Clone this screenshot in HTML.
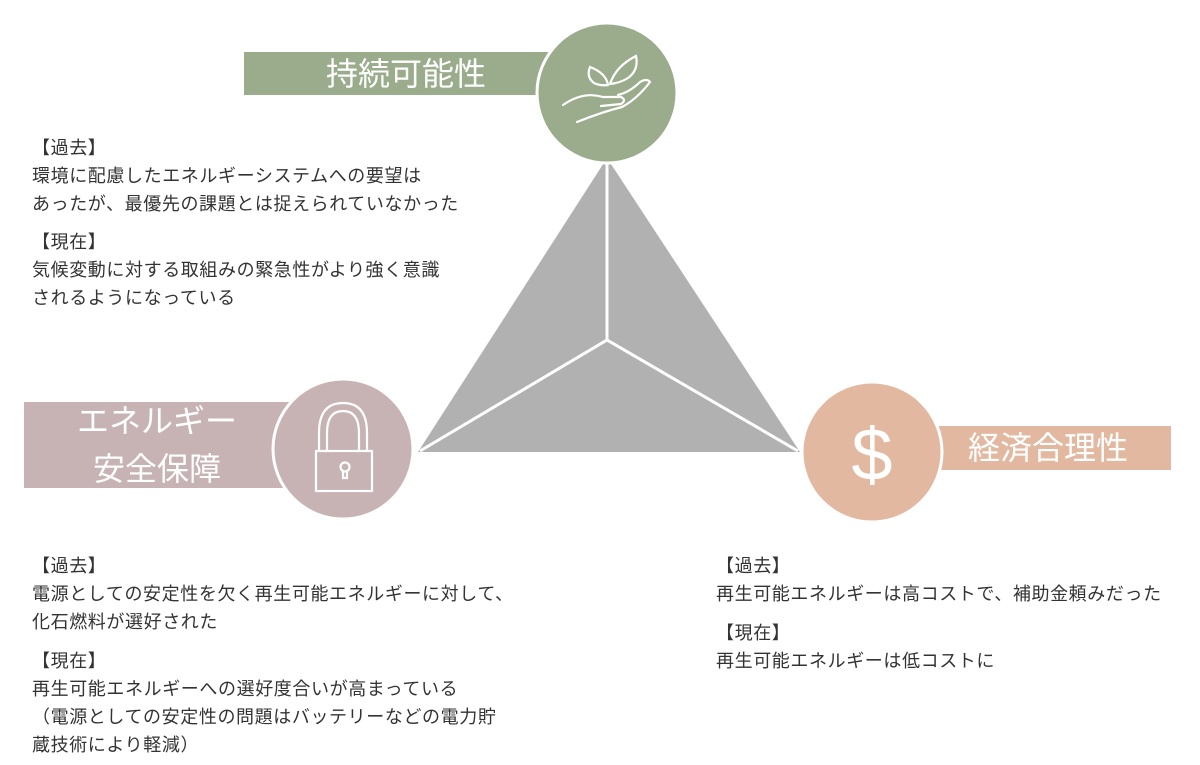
<!DOCTYPE html>
<html><head><meta charset="utf-8"><style>
body{margin:0;width:1200px;height:765px;background:#fff;position:relative;overflow:hidden;font-family:"Liberation Sans","Noto Sans CJK JP",sans-serif;}
.t{position:absolute;font-size:18px;color:#333;line-height:28px;white-space:nowrap;letter-spacing:0.6px}
.bar{position:absolute;color:#fff;font-size:32px;display:flex;align-items:center;justify-content:center;line-height:48px;text-align:center}
</style></head><body>
<svg width="1200" height="765" style="position:absolute;left:0;top:0">
<polygon points="607,158 418,452 800,452" fill="#b1b1b1"/>
<polyline points="607,158 607,340" stroke="#fff" stroke-width="3" fill="none"/>
<polyline points="420,451 607,340 798,451" stroke="#fff" stroke-width="3" fill="none"/>
<rect x="244" y="52" width="310" height="43" fill="#9aac8b"/>
<rect x="24" y="402" width="270" height="86" fill="#c7b3b4"/>
<rect x="935" y="426" width="236" height="44" fill="#e2b9a0"/>
<circle cx="607" cy="93" r="70" fill="#9aac8b" stroke="#fff" stroke-width="3"/>
<circle cx="343" cy="449" r="70" fill="#c7b3b4" stroke="#fff" stroke-width="3"/>
<circle cx="872" cy="452" r="70" fill="#e2b9a0" stroke="#fff" stroke-width="3"/>
<g stroke="#fff" stroke-width="2.2" fill="none" stroke-linecap="round">
<path d="M563,105 q20,-14 40,-8 l18,0 q6,3 0,7 l-20,2"/>
<path d="M577,122 q25,-10 45,-15 q15,-8 28,-25 q-3,-4 -10,0 q-10,10 -22,13"/>
<path d="M608,85 q-2,-12 -18,-18 q-4,10 4,16 q6,3 14,2"/>
<path d="M610,84 q6,-18 26,-28 q3,14 -8,22 q-8,5 -18,6"/>
<path d="M319,451 l0,-18 q0,-30 24,-30 q24,0 24,30 l0,18"/>
<path d="M327,451 l0,-18 q0,-22 16,-22 q16,0 16,22 l0,18"/>
<rect x="316" y="451" width="56" height="40"/>
<circle cx="345" cy="467" r="4.5"/><path d="M343,471 l0,7 l4,0 l0,-7"/>
</g>
<text x="872" y="480" fill="#fff" font-size="74" text-anchor="middle" font-family="Liberation Sans">$</text>
</svg>
<div class="bar" style="left:256px;top:52px;width:300px;height:43px">持続可能性</div>
<div class="bar" style="left:24px;top:402px;width:266px;height:86px">エネルギー<br>安全保障</div>
<div class="bar" style="left:948px;top:426px;width:200px;height:44px">経済合理性</div>
<div class="t" style="left:32px;top:134px">【過去】<br>環境に配慮したエネルギーシステムへの要望は<br>あったが、最優先の課題とは捉えられていなかった</div>
<div class="t" style="left:32px;top:228px">【現在】<br>気候変動に対する取組みの緊急性がより強く意識<br>されるようになっている</div>
<div class="t" style="left:32px;top:552px">【過去】<br>電源としての安定性を欠く再生可能エネルギーに対して、<br>化石燃料が選好された</div>
<div class="t" style="left:32px;top:647px">【現在】<br>再生可能エネルギーへの選好度合いが高まっている<br>（電源としての安定性の問題はバッテリーなどの電力貯<br>蔵技術により軽減）</div>
<div class="t" style="left:716px;top:552px">【過去】<br>再生可能エネルギーは高コストで、補助金頼みだった</div>
<div class="t" style="left:716px;top:619px">【現在】<br>再生可能エネルギーは低コストに</div>
</body></html>
